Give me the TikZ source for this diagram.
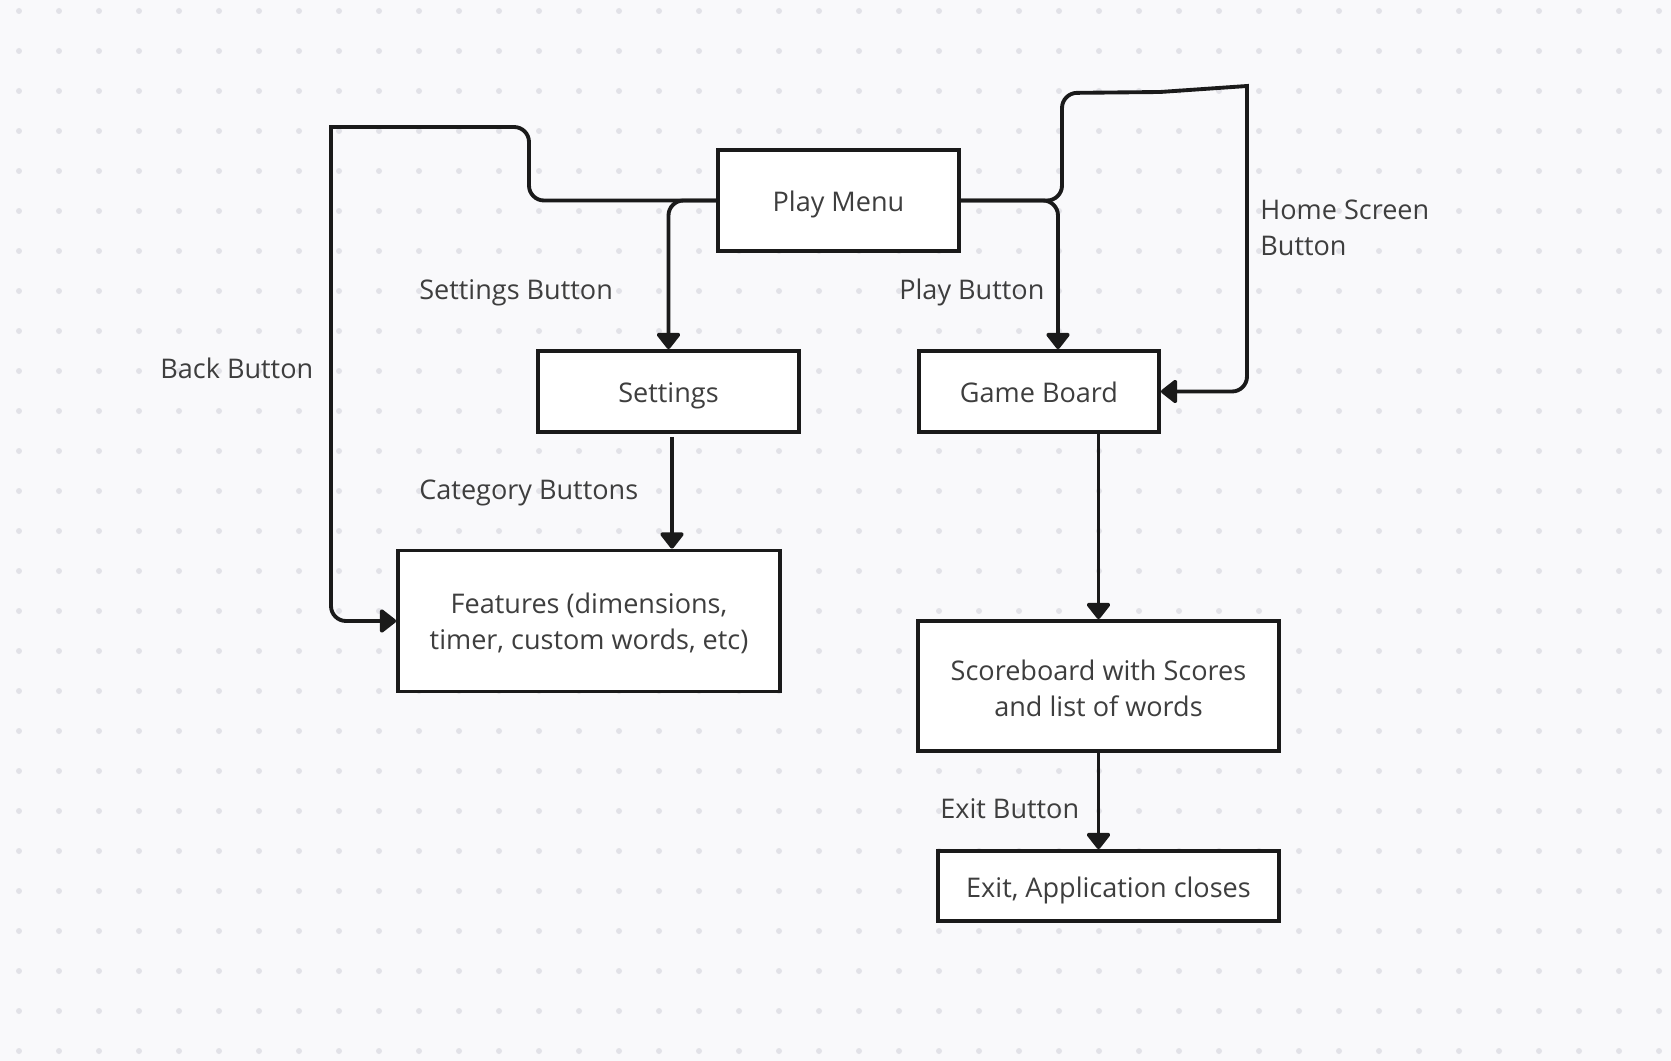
\documentclass[tikz,border=0pt]{standalone}
\usepackage{fontspec}
\setmainfont{Open Sans}
\usetikzlibrary{arrows.meta}
\definecolor{paper}{HTML}{F9F9FB}
\definecolor{griddot}{HTML}{E2E2E8}
\definecolor{ink}{HTML}{1A1A1A}
\definecolor{txt}{HTML}{3E3E3E}
\newcommand{\toppad}{\rule{0pt}{14pt}}

\begin{document}
\begin{tikzpicture}[x=0.02cm, y=-0.02cm,
  box/.style={draw=ink, line width=2.2pt, fill=white, text=txt, align=center,
    font=\fontsize{15.4}{20.5}\selectfont},
  oneline/.style={text height=12.6pt, text depth=0pt},
  lbl/.style={anchor=west, inner sep=0pt, text=txt, align=left,
    font=\fontsize{15.4}{20.5}\selectfont},
  arr/.style={draw=ink, line width=2.2pt, -{Triangle[length=10pt,width=15pt,round]}}]

  % ====== background: dotted board ======
  \fill[paper] (0,0) rectangle (1671,1061);
  \foreach \i in {0,...,41}
    \foreach \j in {0,...,26}
      \fill[griddot] (19+40*\i, 11+40*\j) circle (0.06cm);

  % ====== screens ======
  \node[box, oneline, minimum width=4.82cm, minimum height=2.02cm] (menu) at (838.5,200.5) {Play Menu};
  \node[box, oneline, minimum width=5.22cm, minimum height=1.62cm] (settings) at (668.5,391.5) {Settings};
  \node[box, oneline, minimum width=4.80cm, minimum height=1.62cm] (board) at (1039,391.5) {Game Board};
  \node[box, minimum width=7.64cm, minimum height=2.82cm] (features) at (589,621) {\toppad Features (dimensions,\\timer, custom words, etc)};
  \node[box, minimum width=7.22cm, minimum height=2.60cm] (score) at (1098.5,686) {\toppad Scoreboard with Scores\\and list of words};
  \node[box, oneline, minimum width=6.82cm, minimum height=1.40cm] (exit) at (1108.5,886) {Exit, Application closes};

  % ====== left side: settings ======
  \draw[arr, rounded corners=0.3cm] (menu.west) -| (settings.north);
  \draw[arr, rounded corners=0.3cm] (menu.west) -| (529,127) [sharp corners] -- (331,127)
    [rounded corners=0.3cm] -- (331,621) -- (features.west);
  \draw[arr] ([xshift=0.07cm, yshift=-0.06cm]settings.south) -- ([xshift=0.07cm]settings.south |- features.north);

  % ====== right side: game ======
  \draw[arr, rounded corners=0.3cm] (menu.east) -| ([xshift=0.38cm]board.north);
  \draw[arr, rounded corners=0.3cm] (menu.east) -| (1062,93) [sharp corners] -- (1160,92)
    -- (1247,86) [rounded corners=0.3cm] -- (1247,391.5) -- (board.east);
  \draw[arr] (board.south -| score.north) -- (score.north);
  \draw[arr] (score.south) -- (score.south |- exit.north);

  % ====== button labels ======
  \node[lbl, oneline] (lsettings) at (419,288) {Settings Button};
  \node[lbl, oneline] (lplay) at (899,288) {Play Button};
  \node[lbl, oneline] (lback) at (160,367) {Back Button};
  \node[lbl, oneline] (lcategory) at (419,488) {Category Buttons};
  \node[lbl] (lhome) at (1260,228) {Home Screen\\Button};
  \node[lbl, oneline] (lexit) at (940,807) {Exit Button};

\end{tikzpicture}
\end{document}
